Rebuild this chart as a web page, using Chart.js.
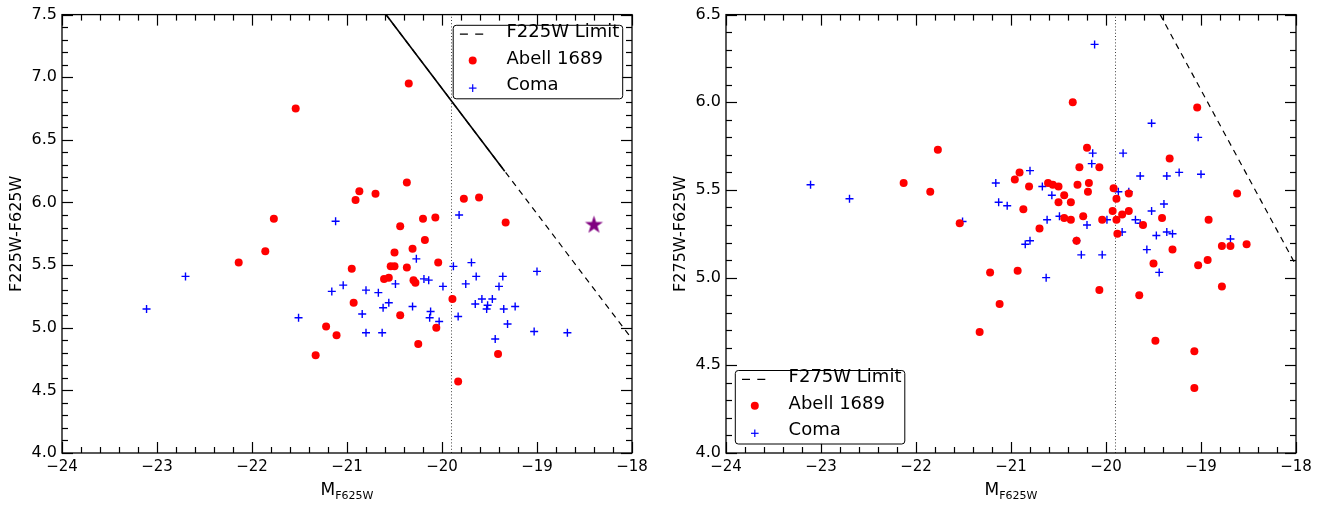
<!DOCTYPE html>
<html><head><meta charset="utf-8">
<script src="https://cdn.jsdelivr.net/npm/chart.js@4.4.0/dist/chart.umd.min.js"></script>
<style>
html,body{margin:0;padding:0;background:#fff;}
#wrap{position:relative;width:1330px;height:505px;overflow:hidden;background:#fff;}
canvas{position:absolute;top:0;}
</style>
</head><body>
<div id="wrap">
<canvas id="c1" width="665" height="505" style="left:0px"></canvas>
<canvas id="c2" width="665" height="505" style="left:664px"></canvas>
</div>
<script>
const FONT = "'DejaVu Sans', 'Liberation Sans', sans-serif";

// ---- tick labels ----
const xTickValues = [-24, -23, -22, -21, -20, -19, -18];
const yTicks225 = [4.0, 4.5, 5.0, 5.5, 6.0, 6.5, 7.0, 7.5];
const yTicks275 = [4.0, 4.5, 5.0, 5.5, 6.0, 6.5];

// ---- F225W panel ----
const abell225X = [-21.54,-21.77,-21.86,-22.14,-21.22,-21.33,-20.35,-20.37,-20.87,-20.91,-20.70,-19.77,-19.61,-19.33,-20.44,-20.20,-20.07,-20.18,-20.31,-20.50,-20.95,-20.54,-20.50,-20.37,-20.61,-20.56,-20.30,-20.28,-20.93,-20.44,-21.11,-20.25,-20.04,-19.89,-20.06,-19.41,-19.83];
const abell225Y = [6.75,5.87,5.61,5.52,5.01,4.78,6.95,6.16,6.09,6.02,6.07,6.03,6.04,5.84,5.81,5.87,5.88,5.70,5.63,5.60,5.47,5.49,5.49,5.48,5.39,5.40,5.38,5.36,5.20,5.10,4.94,4.87,5.52,5.23,5.00,4.79,4.57];
const coma225X = [-23.11,-22.70,-21.51,-21.12,-19.82,-20.27,-20.49,-21.04,-21.16,-20.80,-20.67,-20.56,-20.62,-20.84,-20.31,-20.80,-20.63,-19.69,-19.88,-19.00,-19.64,-19.36,-20.19,-20.14,-19.99,-19.75,-19.40,-19.58,-19.47,-19.65,-19.52,-19.53,-19.35,-19.23,-20.12,-20.13,-20.03,-19.83,-19.31,-19.44,-19.03,-18.68];
const coma225Y = [5.15,5.41,5.08,5.85,5.90,5.55,5.35,5.34,5.29,5.30,5.28,5.20,5.16,5.11,5.17,4.96,4.96,5.52,5.49,5.45,5.41,5.41,5.39,5.38,5.33,5.35,5.33,5.23,5.23,5.19,5.18,5.15,5.15,5.17,5.13,5.08,5.05,5.09,5.03,4.91,4.97,4.96];
const limit225X = [-20.59, -18.0];
const limit225Y = [7.5, 4.91];
const limit225SolidX = [-20.59, -19.34];
const limit225SolidY = [7.5, 6.25];
const starX = [-18.40];
const starY = [5.82];

// ---- F275W panel ----
const abell275X = [-22.13,-21.85,-21.77,-21.54,-21.22,-21.12,-21.33,-20.91,-20.96,-20.81,-20.61,-20.56,-20.50,-20.44,-20.50,-20.37,-20.87,-20.44,-20.37,-20.70,-20.31,-20.93,-20.20,-20.28,-20.07,-20.30,-20.18,-20.19,-20.24,-20.07,-20.35,-19.04,-19.33,-19.92,-19.76,-19.89,-18.62,-19.93,-19.83,-19.76,-19.41,-20.04,-19.89,-19.61,-18.92,-19.88,-18.78,-18.69,-18.52,-19.30,-19.50,-19.03,-18.93,-19.65,-18.78,-19.48,-19.07,-19.07];
const abell275Y = [5.54,5.49,5.73,5.31,5.03,4.85,4.69,5.60,5.56,5.52,5.54,5.53,5.52,5.47,5.43,5.43,5.39,5.34,5.33,5.28,5.21,5.04,5.74,5.63,5.63,5.53,5.54,5.49,5.35,4.93,6.00,5.97,5.68,5.51,5.48,5.45,5.48,5.38,5.36,5.38,5.34,5.33,5.33,5.30,5.33,5.25,5.18,5.18,5.19,5.16,5.08,5.07,5.10,4.90,4.95,4.64,4.58,4.37];
const coma275X = [-23.11,-22.70,-21.51,-21.16,-21.13,-21.04,-20.80,-20.67,-20.57,-20.62,-20.49,-20.85,-20.80,-20.31,-20.26,-20.63,-20.14,-20.15,-20.20,-20.12,-19.52,-19.03,-19.82,-19.64,-19.36,-19.23,-19.00,-19.87,-19.76,-19.39,-19.52,-19.99,-19.69,-19.64,-19.83,-19.36,-19.30,-19.47,-18.69,-19.57,-20.04,-19.44];
const coma275Y = [5.53,5.45,5.32,5.54,5.43,5.41,5.61,5.52,5.47,5.33,5.35,5.19,5.21,5.21,5.13,5.00,5.71,5.65,5.30,6.33,5.88,5.80,5.71,5.58,5.58,5.60,5.59,5.49,5.49,5.42,5.38,5.33,5.33,5.31,5.26,5.26,5.25,5.24,5.22,5.16,5.13,5.03];
const limit275X = [-19.43, -18.0];
const limit275Y = [6.5, 5.07];

const cutMag = -19.9;

const pts = (xs, ys) => xs.map((x, i) => ({x: x, y: ys[i]}));

function makeStar(R, color) {
  const s = Math.ceil(2 * R + 2);
  const c = document.createElement('canvas');
  c.width = s; c.height = s;
  const g = c.getContext('2d');
  const cx = s / 2, cy = s / 2, r = R * 0.382;
  g.fillStyle = color;
  g.beginPath();
  for (let k = 0; k < 10; k++) {
    const a = -Math.PI / 2 + k * Math.PI / 5;
    const rr = (k % 2 === 0) ? R : r;
    const px = cx + rr * Math.cos(a), py = cy + rr * Math.sin(a);
    if (k === 0) g.moveTo(px, py); else g.lineTo(px, py);
  }
  g.closePath(); g.fill();
  return c;
}

const DASH = [6, 5];

const framePlugin = {
  id: 'frame',
  afterDraw(chart, args, o) {
    const ctx = chart.ctx, ca = chart.chartArea, xs = chart.scales.x, ys = chart.scales.y;
    ctx.save();
    ctx.strokeStyle = '#000';
    ctx.lineWidth = 1.3;
    ctx.setLineDash([]);
    ctx.strokeRect(ca.left, ca.top, ca.right - ca.left, ca.bottom - ca.top);
    const seg = (x1, y1, x2, y2) => { ctx.beginPath(); ctx.moveTo(x1, y1); ctx.lineTo(x2, y2); ctx.stroke(); };
    ctx.lineWidth = 1.2;
    const nx = Math.round((xs.max - xs.min) / 0.2);
    for (let i = 0; i <= nx; i++) {
      const v = xs.min + i * 0.2;
      const L = (i % 5 === 0) ? 11 : 6;
      const p = Math.round(xs.getPixelForValue(v)) + 0.5;
      seg(p, ca.bottom, p, ca.bottom - L);
      seg(p, ca.top, p, ca.top + L);
    }
    const ny = Math.round((ys.max - ys.min) / 0.1);
    for (let i = 0; i <= ny; i++) {
      const v = ys.min + i * 0.1;
      const L = (i % 5 === 0) ? 11 : 6;
      const p = Math.round(ys.getPixelForValue(v)) + 0.5;
      seg(ca.left, p, ca.left + L, p);
      seg(ca.right, p, ca.right - L, p);
    }
    // x axis title with subscript
    const cx = (ca.left + ca.right) / 2;
    ctx.fillStyle = '#000';
    ctx.textBaseline = 'alphabetic';
    ctx.font = '17px ' + FONT;
    const wM = ctx.measureText('M').width;
    ctx.font = '11px ' + FONT;
    const wS = ctx.measureText('F625W').width;
    const x0 = cx - (wM + wS) / 2;
    ctx.font = '17px ' + FONT;
    ctx.textAlign = 'left';
    ctx.fillText('M', x0, 494.5);
    ctx.font = '11px ' + FONT;
    ctx.fillText('F625W', x0 + wM, 499);

    // legend
    const items = chart.data.datasets.filter(d => d.legendRank !== undefined).sort((a, b) => a.legendRank - b.legendRank);
    const w = 169.5, h = 73.5;
    let bx, by;
    if (o.corner === 'tr') { bx = ca.right - 9.3 - w; by = ca.top + 10.7; }
    else { bx = ca.left + 9.3; by = ca.bottom - 9 - h; }
    ctx.beginPath();
    ctx.roundRect(bx, by, w, h, 3);
    ctx.fillStyle = 'rgba(255,255,255,0.95)';
    ctx.fill();
    ctx.lineWidth = 1;
    ctx.strokeStyle = '#000';
    ctx.stroke();
    const rows = [8.8, 35.2, 61.8];
    items.forEach((d, i) => {
      const yy = by + rows[i];
      ctx.save();
      if (d.showLine) {
        ctx.strokeStyle = d.borderColor; ctx.lineWidth = 1.2;
        ctx.setLineDash([8, 7.3]);
        seg(bx + 6.7, yy, bx + 30, yy);
      } else if (d.pointStyle === 'cross') {
        ctx.strokeStyle = d.borderColor; ctx.lineWidth = 1.2;
        seg(bx + 19.5 - 3.8, yy + 1, bx + 19.5 + 3.8, yy + 1);
        seg(bx + 19.5, yy + 1 - 3.8, bx + 19.5, yy + 1 + 3.8);
      } else {
        ctx.fillStyle = d.backgroundColor;
        ctx.beginPath(); ctx.arc(bx + 19.5, yy, 4, 0, Math.PI * 2); ctx.fill();
      }
      ctx.restore();
      ctx.fillStyle = '#000';
      ctx.font = '18px ' + FONT;
      ctx.textAlign = 'left';
      ctx.textBaseline = 'middle';
      ctx.fillText(d.label, bx + 53.3, yy - 1.5);
    });
    ctx.restore();
  }
};

function buildChart(id, cfg) {
  const datasets = [
    { label: 'Abell 1689', data: pts(cfg.ax, cfg.ay), pointStyle: 'circle', pointRadius: 4, backgroundColor: '#ff0000', borderColor: '#ff0000', borderWidth: 0, legendRank: 1 },
    { label: 'Coma', data: pts(cfg.cx, cfg.cy), pointStyle: 'cross', pointRadius: 4, borderColor: '#0000ff', backgroundColor: '#0000ff', borderWidth: 1.4, legendRank: 2 }
  ];
  if (cfg.star) {
    datasets.push({ label: 'star', data: pts(cfg.star[0], cfg.star[1]), pointStyle: makeStar(9.5, '#800080'), pointRadius: 9 });
  }
  datasets.push({ label: cfg.limitLabel, data: pts(cfg.lx, cfg.ly), showLine: true, borderColor: '#000', borderWidth: 1.2, borderDash: DASH, pointRadius: 0, fill: false, legendRank: 0 });
  if (cfg.sx) {
    datasets.push({ label: 'solid', data: pts(cfg.sx, cfg.sy), showLine: true, borderColor: '#000', borderWidth: 1.6, pointRadius: 0, fill: false });
  }
  datasets.push({ label: 'cut', data: pts([cutMag, cutMag], [cfg.yt[0], cfg.yt[cfg.yt.length - 1]]), showLine: true, borderColor: 'rgba(0,0,0,0.75)', borderWidth: 1, borderDash: [1, 2.2], pointRadius: 0, fill: false });

  return new Chart(document.getElementById(id), {
    type: 'scatter',
    data: { datasets: datasets },
    options: {
      responsive: false, animation: false, devicePixelRatio: 1,
      layout: { padding: { left: 0, right: 33, top: 11, bottom: 0 } },
      events: [],
      plugins: { legend: { display: false }, tooltip: { enabled: false }, frame: { corner: cfg.corner } },
      scales: {
        x: {
          type: 'linear', min: xTickValues[0], max: xTickValues[xTickValues.length - 1],
          afterFit(a) { a.height = 52; },
          afterBuildTicks(a) { a.ticks = xTickValues.map(v => ({ value: v })); },
          grid: { display: false, drawTicks: false }, border: { display: false },
          ticks: { padding: 7, color: '#000', maxRotation: 0, autoSkip: false, font: { family: FONT, size: 15, lineHeight: 1 },
                   callback: v => String(v).replace('-', '\u2212') }
        },
        y: {
          type: 'linear', min: cfg.yt[0], max: cfg.yt[cfg.yt.length - 1],
          afterFit(a) { a.width = 62; },
          afterBuildTicks(a) { a.ticks = cfg.yt.map(v => ({ value: v })); },
          grid: { display: false, drawTicks: false }, border: { display: false },
          ticks: { padding: 5, color: '#000', autoSkip: false, font: { family: FONT, size: 16 }, callback: v => Number(v).toFixed(1) },
          title: { display: true, text: cfg.ytitle, color: '#000', font: { family: FONT, size: 16 }, padding: { top: 7, bottom: 0 } }
        }
      }
    },
    plugins: [framePlugin]
  });
}

buildChart('c1', { ax: abell225X, ay: abell225Y, cx: coma225X, cy: coma225Y, lx: limit225X, ly: limit225Y, sx: limit225SolidX, sy: limit225SolidY,
  star: [starX, starY], yt: yTicks225, ytitle: 'F225W-F625W', limitLabel: 'F225W Limit', corner: 'tr' });
buildChart('c2', { ax: abell275X, ay: abell275Y, cx: coma275X, cy: coma275Y, lx: limit275X, ly: limit275Y,
  yt: yTicks275, ytitle: 'F275W-F625W', limitLabel: 'F275W Limit', corner: 'bl' });
</script>
</body></html>
